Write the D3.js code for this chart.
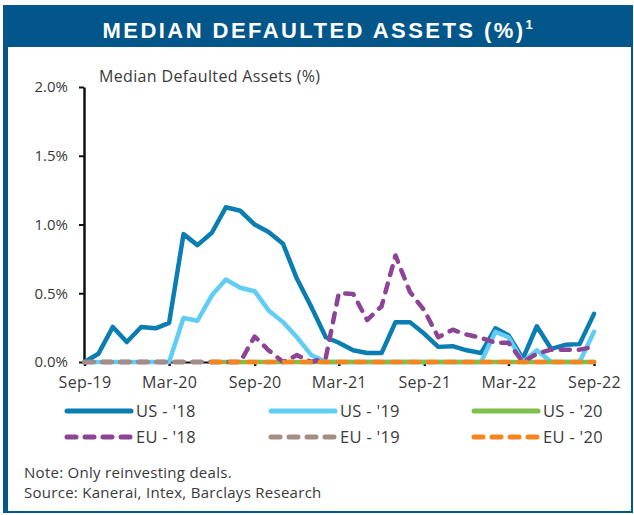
<!DOCTYPE html>
<html>
<head>
<meta charset="utf-8">
<script src="https://d3js.org/d3.v7.min.js"></script>
<style>
	body {
		padding: 0;
		margin: 0;
		background: #fff;
	}
	text {
		font-family: "Open Sans", "Noto Sans", sans-serif;
		fill: #3a3a3a;
	}
	.title {
		font-family: "Liberation Sans", Arial, sans-serif;
		font-weight: bold;
		fill: #fff;
	}
	.axis path, .axis line {
		stroke: #111;
	}
</style>
</head>
<body>
<div id="content"></div>
<script>

// Months, Sep-19 .. Sep-22
var months = ["2019-09","2019-10","2019-11","2019-12","2020-01","2020-02","2020-03","2020-04","2020-05","2020-06",
	"2020-07","2020-08","2020-09","2020-10","2020-11","2020-12","2021-01","2021-02","2021-03","2021-04",
	"2021-05","2021-06","2021-07","2021-08","2021-09","2021-10","2021-11","2021-12","2022-01","2022-02",
	"2022-03","2022-04","2022-05","2022-06","2022-07","2022-08","2022-09"];

// Series values (%), null = no data
var us18 = [0.0,0.06,0.255,0.145,0.255,0.245,0.285,0.93,0.85,0.94,
	1.125,1.1,1.0,0.945,0.86,0.605,0.4,0.18,0.14,0.085,
	0.065,0.065,0.29,0.29,0.205,0.11,0.115,0.085,0.065,0.245,
	0.195,0.025,0.26,0.095,0.125,0.13,0.35];
var us19 = [0,0,0,0,0,0,0,0.32,0.30,0.485,
	0.6,0.54,0.515,0.375,0.29,0.18,0.05,0,0,0,
	0,0,0,0,0,0,0,0,0,0.22,
	0.18,0,0.085,0,0,0,0.22];
var us20 = [null,null,null,null,null,null,null,null,null,0,
	0,0,0,0,0,0,0,0,0,0,
	0,0,0,0,0,0,0,0,0,0,
	0,0,0,0,0,0,0];
var eu18 = [0,0,0,0,0,0,0,0,0,0,
	0,0,0.185,0.085,0,0.05,0,0.03,0.5,0.495,
	0.305,0.405,0.775,0.51,0.375,0.18,0.235,0.2,0.175,0.14,
	0.14,0,0.06,0.09,0.09,0.09,0.11];
var eu19 = [0,0,0,0,0,0,0,0,0,0,
	null,null,null,null,null,null,null,null,null,null,
	null,null,null,null,null,null,null,null,null,null,
	null,null,null,null,null,null,null];
var eu20 = [null,null,null,null,null,null,null,null,null,0,
	0,0,0,0,0,0,0,0,0,0,
	0,0,0,0,0,0,0,0,0,0,
	0,0,0,0,0,0,0];

var seriesNames = ["US - '18","US - '19","US - '20","EU - '18","EU - '19","EU - '20"];
var seriesValues = [us18, us19, us20, eu18, eu19, eu20];
var seriesColors = ["#0a7db3","#62cdf4","#7dc04c","#8d4497","#a38d84","#f6841f"];
var seriesDashed = [false,false,false,true,true,true];

var yTicks = [0, 0.5, 1.0, 1.5, 2.0];
var xTicks = ["2019-09","2020-03","2020-09","2021-03","2021-09","2022-03","2022-09"];

var W = 634, H = 515;
var parse = d3.timeParse("%Y-%m");

var svg = d3.select('#content')
	.append('svg')
	.attr('width', W)
	.attr('height', H);

// frame and title bar
svg.append('rect')
	.attr('x', 4).attr('y', 6)
	.attr('width', 628).attr('height', 506)
	.attr('fill', '#fff')
	.attr('stroke', '#03568a')
	.attr('stroke-width', 2);
svg.append('rect')
	.attr('x', 3).attr('y', 6)
	.attr('width', 5).attr('height', 507)
	.attr('fill', '#03568a');
svg.append('rect')
	.attr('x', 3).attr('y', 6)
	.attr('width', 630).attr('height', 41)
	.attr('fill', '#03568a');
var title = svg.append('text')
	.attr('class', 'title')
	.attr('x', 102.5).attr('y', 37.5)
	.style('font-size', '22px')
	.style('letter-spacing', '2.45px')
	.text('MEDIAN DEFAULTED ASSETS (%)');
title.append('tspan')
	.attr('dy', -9)
	.attr('dx', 0)
	.style('font-size', '13px')
	.style('letter-spacing', '0px')
	.text('1');

// scales
var x = d3.scaleTime()
	.domain([parse(months[0]), parse(months[months.length - 1])])
	.range([84.5, 594]);
var y = d3.scaleLinear()
	.domain([0, 2])
	.range([362, 87]);

// subtitle
svg.append('text')
	.attr('x', 99).attr('y', 82)
	.style('font-size', '16px')
	.style('letter-spacing', '0.35px')
	.text('Median Defaulted Assets (%)');

// axes
var yAxis = svg.append('g')
	.attr('class', 'axis')
	.attr('transform', 'translate(84,0)')
	.call(d3.axisLeft(y).tickValues(yTicks).tickSize(5).tickSizeOuter(0)
		.tickFormat(function(d) { return d3.format('.1f')(d) + '%'; }));
yAxis.select('.domain').attr('stroke-width', 2.5);
yAxis.selectAll('.tick line').attr('stroke-width', 2);
yAxis.selectAll('.tick text')
	.attr('x', -16)
	.style('font-size', '15px')
	.style('font-family', '"Open Sans", sans-serif')
	.attr('fill', '#3a3a3a');

var xAxis = svg.append('g')
	.attr('class', 'axis')
	.attr('transform', 'translate(0,362)')
	.call(d3.axisBottom(x).tickValues(xTicks.map(parse)).tickSize(4).tickSizeOuter(0)
		.tickFormat(d3.timeFormat('%b-%y')));
xAxis.select('.domain').attr('stroke-width', 2);
xAxis.selectAll('.tick line').attr('stroke-width', 2.5);
xAxis.selectAll('.tick text')
	.attr('y', 15)
	.style('font-size', '16px')
	.style('letter-spacing', '0.3px')
	.style('font-family', '"Open Sans", sans-serif')
	.attr('fill', '#3a3a3a');

// lines
var line = d3.line()
	.defined(function(d) { return d != null; })
	.x(function(d, i) { return x(parse(months[i])); })
	.y(function(d) { return y(d); });

seriesValues.forEach(function(vals, k) {
	svg.append('path')
		.datum(vals)
		.attr('d', line)
		.attr('fill', 'none')
		.attr('stroke', seriesColors[k])
		.attr('stroke-width', 4.5)
		.attr('stroke-linejoin', 'round')
		.attr('stroke-linecap', 'round')
		.attr('stroke-dasharray', seriesDashed[k] ? '9,9' : null);
});

// legend
var legX = [67, 271, 474];
var legY = [411, 437];
seriesNames.forEach(function(name, k) {
	var lx = legX[k % 3], ly = legY[Math.floor(k / 3)];
	svg.append('line')
		.attr('x1', lx).attr('x2', lx + 64)
		.attr('y1', ly).attr('y2', ly)
		.attr('stroke', seriesColors[k])
		.attr('stroke-width', 5)
		.attr('stroke-linecap', 'round')
		.attr('stroke-dasharray', seriesDashed[k] ? '9,9' : null);
	svg.append('text')
		.attr('x', lx + 69).attr('y', ly + 6)
		.style('font-size', '16.5px')
		.style('letter-spacing', '0.3px')
		.text(name);
});

// notes
svg.append('text')
	.attr('x', 24).attr('y', 478)
	.style('font-size', '15px')
	.style('letter-spacing', '0.28px')
	.text('Note: Only reinvesting deals.');
svg.append('text')
	.attr('x', 24).attr('y', 498)
	.style('font-size', '15px')
	.style('letter-spacing', '0.28px')
	.text('Source: Kanerai, Intex, Barclays Research');

</script>
</body>
</html>
